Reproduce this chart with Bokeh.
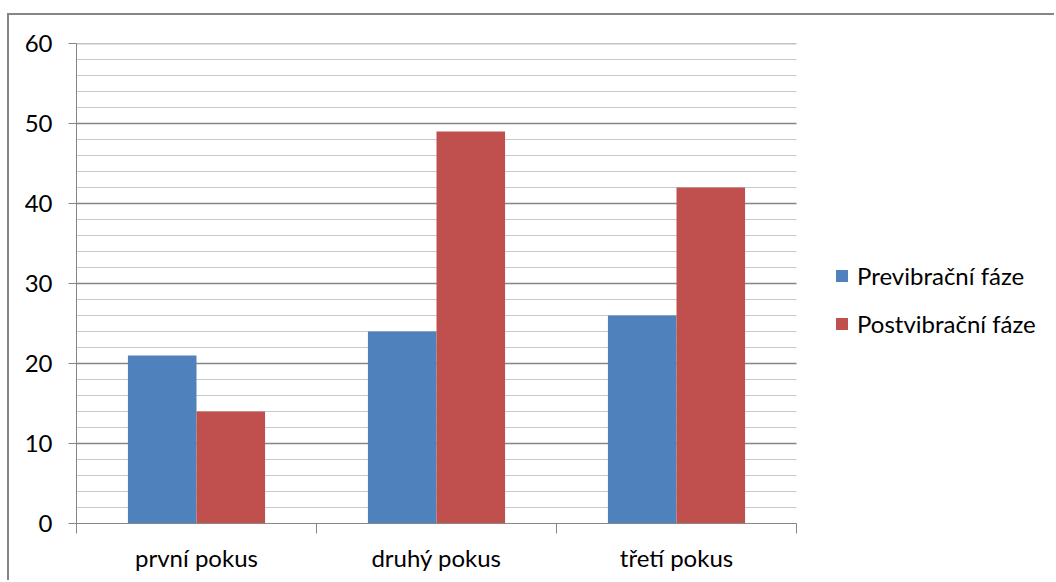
from bokeh.plotting import figure
from bokeh.models import (Range1d, FixedTicker, Legend, LegendItem, ColumnDataSource)
from bokeh.embed import file_html
from bokeh.resources import INLINE

# Data
categories = ["první pokus", "druhý pokus", "třetí pokus"]
series_names = ["Previbrační fáze", "Postvibrační fáze"]
pre_values = [21, 24, 26]
post_values = [14, 49, 42]
y_ticks = [0, 10, 20, 30, 40, 50, 60]
y_minor = [v for v in range(0, 61, 2) if v not in y_ticks]

BLUE = "#4F81BD"
RED = "#C0504D"
AXIS = "#868686"
MINOR = "#c8c8c8"
FONT = "Lato"
FONT_SIZE = "24px"

n = len(categories)
bar_w = 1 / 3.5  # Excel-style gap width of 150 %
centers = [i + 0.5 for i in range(n)]

# The frame also covers the legend area on the right; one category = 240 px
FRAME_W = 980
CAT_PX = 240

src_pre = ColumnDataSource(dict(x=[c - bar_w / 2 for c in centers], top=pre_values))
src_post = ColumnDataSource(dict(x=[c + bar_w / 2 for c in centers], top=post_values))

p = figure(width=1047, height=567, output_backend="svg", toolbar_location=None,
           x_range=Range1d(0, FRAME_W / CAT_PX), y_range=Range1d(0, 60),
           min_border_left=67, min_border_top=28, min_border_right=0,
           min_border_bottom=59)
p.margin = (13, 0, 0, 7)
p.styles = {"border-top": f"2px solid {AXIS}", "border-left": f"2px solid {AXIS}"}
p.outline_line_color = None
p.background_fill_color = "white"
p.border_fill_color = "white"
p.xgrid.grid_line_color = None
p.ygrid.grid_line_color = None

# Horizontal gridlines limited to the category area
p.segment(x0=0, x1=n, y0=y_minor, y1=y_minor, line_color=MINOR, line_width=1)
p.segment(x0=0, x1=n, y0=y_ticks[1:], y1=y_ticks[1:], line_color=AXIS, line_width=1.5)

r_pre = p.vbar(x="x", top="top", width=bar_w, source=src_pre, color=BLUE, line_color=None)
r_post = p.vbar(x="x", top="top", width=bar_w, source=src_post, color=RED, line_color=None)

# Y axis
p.yaxis.ticker = FixedTicker(ticks=y_ticks)
p.yaxis.axis_line_color = AXIS
p.yaxis.major_tick_line_color = AXIS
p.yaxis.major_tick_in = 0
p.yaxis.major_tick_out = 8
p.yaxis.minor_tick_line_color = None
p.yaxis.major_label_standoff = 16
p.yaxis.major_label_text_font = FONT
p.yaxis.major_label_text_font_size = FONT_SIZE
p.yaxis.major_label_text_color = "#000000"

# X axis: labels at category centres, ticks at category boundaries
p.xaxis.bounds = (0, n)
p.xaxis.ticker = FixedTicker(ticks=centers, minor_ticks=list(range(n + 1)))
p.xaxis.major_label_overrides = {c: lab for c, lab in zip(centers, categories)}
p.xaxis.axis_line_color = AXIS
p.xaxis.major_tick_line_color = None
p.xaxis.major_tick_in = 0
p.xaxis.major_tick_out = 0
p.xaxis.minor_tick_line_color = AXIS
p.xaxis.minor_tick_in = 0
p.xaxis.minor_tick_out = 10
p.xaxis.major_label_standoff = 9
p.xaxis.major_label_text_font = FONT
p.xaxis.major_label_text_font_size = FONT_SIZE
p.xaxis.major_label_text_color = "#000000"

legend = Legend(items=[LegendItem(label=series_names[0], renderers=[r_pre]),
                       LegendItem(label=series_names[1], renderers=[r_post])],
                location=(758, 185), padding=0, margin=0, spacing=19,
                glyph_width=15, glyph_height=15, label_height=20,
                label_standoff=8, border_line_color=None,
                background_fill_alpha=0,
                label_text_font=FONT, label_text_font_size=FONT_SIZE,
                label_text_color="#000000")
p.add_layout(legend, "center")

open("out.html", "w").write(file_html(p, INLINE))
